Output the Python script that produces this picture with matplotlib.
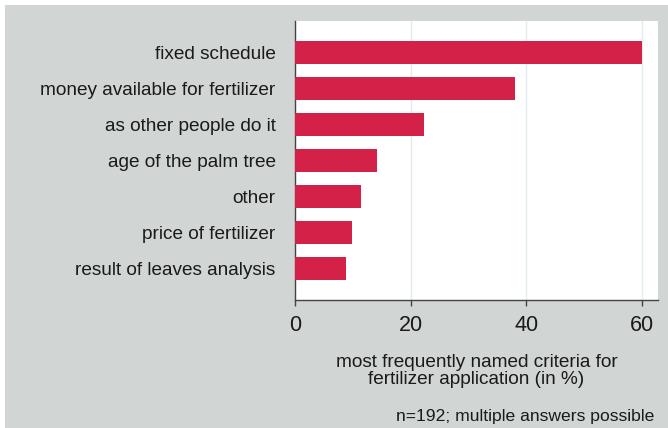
import numpy as np
import matplotlib
matplotlib.use('Agg')
import matplotlib.pyplot as plt
from matplotlib.patches import Rectangle

# 数据
criteria = ['fixed schedule', 'money available for fertilizer', 'as other people do it',
            'age of the palm tree', 'other', 'price of fertilizer', 'result of leaves analysis']
percent = [60.0, 38.1, 22.4, 14.1, 11.4, 9.9, 8.9]
x_ticks = [0, 20, 40, 60]

bar_color = '#d42147'
bg_gray = '#d1d5d4'

plt.rcParams['font.family'] = ['Liberation Sans', 'DejaVu Sans']

W, H = 668, 428
fig = plt.figure(figsize=(W / 100, H / 100), dpi=100, facecolor='white')

# 灰色背景框 (左上留白边)
fig.add_artist(Rectangle((5 / W, 0), 1 - 5 / W, 1 - 5 / H, transform=fig.transFigure,
                         facecolor=bg_gray, edgecolor='none', zorder=-10))

ax = fig.add_axes([295 / W, 1 - 300 / H, (658 - 295) / W, (300 - 21) / H])
ax.set_facecolor('white')

y = np.arange(len(criteria))
ax.barh(y, percent, height=0.63, color=bar_color, zorder=3)

ax.set_xlim(0, 62.8)
ax.set_ylim(len(criteria) - 1 + 0.87, -0.87)
ax.set_yticks(y)
ax.set_yticklabels(criteria, fontsize=13.7, color='#1a1a1a')
ax.set_xticks(x_ticks)
ax.set_xticklabels([str(t) for t in x_ticks], fontsize=15.5, color='#1a1a1a')

ax.tick_params(axis='y', length=0, pad=14)
ax.tick_params(axis='x', length=4, width=1, color='#444444', pad=7)

ax.grid(axis='x', color='#e3ecec', linewidth=1, zorder=1)

for side in ['top', 'right']:
    ax.spines[side].set_visible(False)
for side in ['left', 'bottom']:
    ax.spines[side].set_color('#444444')
    ax.spines[side].set_linewidth(1)

ax.set_xlabel('most frequently named criteria for\nfertilizer application (in %)',
              fontsize=13.7, color='#1a1a1a', labelpad=13, linespacing=0.98)

fig.text(654 / W, 1 - 416 / H, 'n=192; multiple answers possible', ha='right', va='center',
         fontsize=12.6, color='#1a1a1a')

fig.savefig('out.png', dpi=100, facecolor=fig.get_facecolor())
